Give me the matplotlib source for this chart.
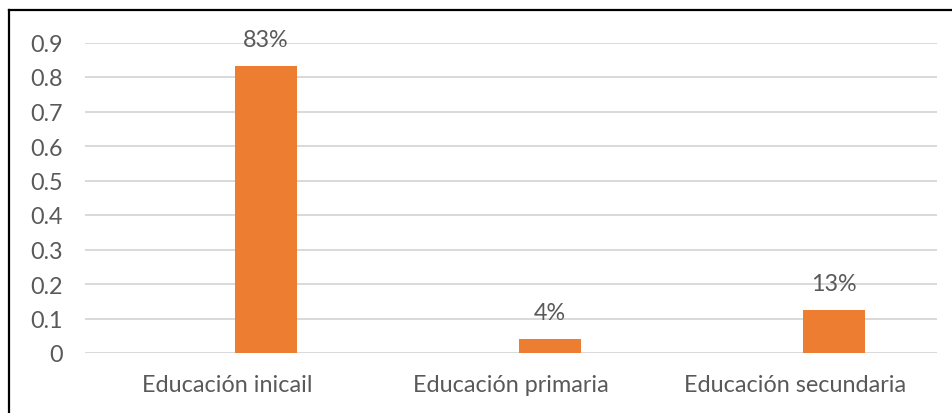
import matplotlib
matplotlib.use("Agg")
import matplotlib.pyplot as plt
from matplotlib.lines import Line2D

# data
categories = ["Educación inicail", "Educación primaria", "Educación secundaria"]
values = [0.833, 0.042, 0.125]
value_labels = ["83%", "4%", "13%"]
yticks = [0, 0.1, 0.2, 0.3, 0.4, 0.5, 0.6, 0.7, 0.8, 0.9]
ytick_labels = ["0", "0.1", "0.2", "0.3", "0.4", "0.5", "0.6", "0.7", "0.8", "0.9"]

BAR = "#ED7D31"
TEXT = "#595959"
GRID = "#D9D9D9"
FS = 16.8
# bars sit right of the category centre (Excel cluster with an empty series)
SHIFT = 0.137

plt.rcParams["font.family"] = ["Lato", "DejaVu Sans"]

W, H = 953, 414
fig = plt.figure(figsize=(W / 100, H / 100), dpi=100)
ax = fig.add_axes([85 / W, (H - 354) / H, (937 - 85) / W, (354 - 43.5) / H])

x = list(range(len(categories)))
bars = ax.bar([i + SHIFT for i in x], values, width=0.22, color=BAR, zorder=3)
for b, lab in zip(bars, value_labels):
    ax.annotate(lab, (b.get_x() + b.get_width() / 2, b.get_height()),
                xytext=(0, 19), textcoords="offset points",
                ha="center", va="center", color=TEXT, fontsize=FS)

ax.set_xlim(-0.5, 2.5)
ax.set_ylim(0, 0.9)
ax.set_yticks(yticks)
ax.set_yticklabels(ytick_labels)
ax.set_xticks(x)
ax.set_xticklabels(categories)
ax.tick_params(axis="y", length=0, pad=16, colors=TEXT, labelsize=FS)
ax.tick_params(axis="x", length=0, pad=15, colors=TEXT, labelsize=FS)
ax.grid(axis="y", color=GRID, lw=1.4, zorder=0)
for s in ax.spines.values():
    s.set_visible(False)

# outer frame of the screenshot (only left and top are visible)
fig.add_artist(Line2D([9.5 / W, 9.5 / W], [0, (H - 10.5) / H],
                      transform=fig.transFigure, color="black", lw=1.6))
fig.add_artist(Line2D([9.5 / W, 1], [(H - 10.5) / H, (H - 10.5) / H],
                      transform=fig.transFigure, color="black", lw=1.6))

fig.savefig("out.png", dpi=100)
